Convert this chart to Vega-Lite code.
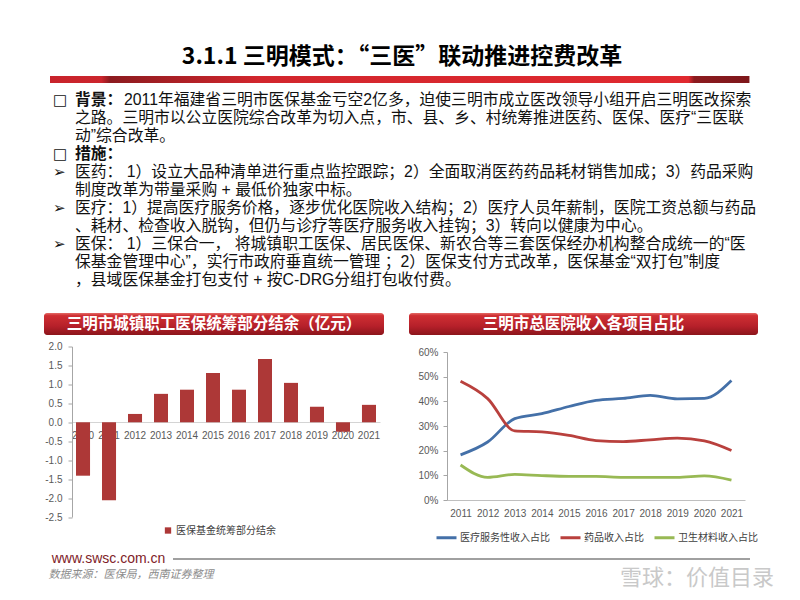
{
  "$schema": "https://vega.github.io/schema/vega-lite/v6.json",
  "background": "white",
  "padding": {"left": 44, "top": 0, "right": 20, "bottom": 10},
  "config": {"view": {"stroke": null}},
  "spacing": 0,
  "resolve": {"scale": {"color": "independent"}, "legend": {"color": "independent"}},
  "vconcat": [
    {
      "width": 716,
      "height": 76,
      "data": {"values": [{"title": "3.1.1 三明模式：“三医”联动推进控费改革"}]},
      "mark": {"type": "text", "font": "Noto Sans CJK SC", "fontSize": 23, "fontWeight": "bold", "color": "#000000", "dy": 19},
      "encoding": {"text": {"field": "title"}}
    },
    {
      "width": 716,
      "height": 7,
      "data": {"values": [{"part": "rule"}]},
      "mark": {
        "type": "rect",
        "fill": {
          "gradient": "linear", "x1": 0, "y1": 0, "x2": 1, "y2": 0,
          "stops": [
            {"offset": 0, "color": "rgba(255,255,255,0)"},
            {"offset": 0.0083, "color": "rgba(255,255,255,0)"},
            {"offset": 0.0084, "color": "#c8232b"},
            {"offset": 0.08, "color": "#cc252d"},
            {"offset": 0.092, "color": "#8c1b1f"},
            {"offset": 0.3, "color": "#d2262d"},
            {"offset": 0.9, "color": "#e0292f"},
            {"offset": 0.908, "color": "#8c1b1f"},
            {"offset": 0.985, "color": "#7e171b"},
            {"offset": 0.986, "color": "rgba(255,255,255,0)"},
            {"offset": 1, "color": "rgba(255,255,255,0)"}
          ]
        }
      },
      "encoding": {}
    },
    {
      "width": 716,
      "height": 230,
      "data": {"values": [
        {"line": 1, "level": 0, "role": "bullet", "s": "□"},
        {"line": 1, "level": 1, "role": "head", "s": "背景："},
        {"line": 1, "level": 1, "role": "lead", "s": "2011年福建省三明市医保基金亏空2亿多，迫使三明市成立医改领导小组开启三明医改探索"},
        {"line": 2, "level": 1, "role": "body", "s": "之路。三明市以公立医院综合改革为切入点，市、县、乡、村统筹推进医药、医保、医疗“三医联"},
        {"line": 3, "level": 1, "role": "body", "s": "动”综合改革。"},
        {"line": 4, "level": 0, "role": "bullet", "s": "□"},
        {"line": 4, "level": 1, "role": "head", "s": "措施："},
        {"line": 5, "level": 0, "role": "bullet", "s": "➢"},
        {"line": 5, "level": 1, "role": "body", "s": "医药： 1）设立大品种清单进行重点监控跟踪；2）全面取消医药药品耗材销售加成；3）药品采购"},
        {"line": 6, "level": 1, "role": "body", "s": "制度改革为带量采购 + 最低价独家中标。"},
        {"line": 7, "level": 0, "role": "bullet", "s": "➢"},
        {"line": 7, "level": 1, "role": "body", "s": "医疗：1）提高医疗服务价格，逐步优化医院收入结构；2）医疗人员年薪制，医院工资总额与药品"},
        {"line": 8, "level": 1, "role": "body", "s": "、耗材、检查收入脱钩，但仍与诊疗等医疗服务收入挂钩；3）转向以健康为中心。"},
        {"line": 9, "level": 0, "role": "bullet", "s": "➢"},
        {"line": 9, "level": 1, "role": "body", "s": "医保： 1）三保合一， 将城镇职工医保、居民医保、新农合等三套医保经办机构整合成统一的“医"},
        {"line": 10, "level": 1, "role": "body", "s": "保基金管理中心”，实行市政府垂直统一管理 ；2）医保支付方式改革，医保基金“双打包”制度"},
        {"line": 11, "level": 1, "role": "body", "s": "，县域医保基金打包支付 + 按C-DRG分组打包收付费。"}
      ]},
      "encoding": {
        "x": {"field": "level", "type": "quantitative", "scale": {"domain": [0, 1], "range": [9, 31], "nice": false, "zero": false}, "axis": null},
        "y": {"field": "line", "type": "quantitative", "scale": {"domain": [0.0556, 12.83], "reverse": true, "nice": false, "zero": false}, "axis": null},
        "text": {"field": "s"}
      },
      "layer": [
        {"transform": [{"filter": "datum.level == 0"}], "mark": {"type": "text", "align": "left", "font": "DejaVu Sans", "fontSize": 15, "fontWeight": "bold", "color": "#111111"}},
        {"transform": [{"filter": "datum.role == 'head'"}], "mark": {"type": "text", "align": "left", "font": "Liberation Sans, Noto Sans CJK SC", "fontSize": 15.8, "fontWeight": "bold", "color": "#111111"}},
        {"transform": [{"filter": "datum.role == 'body'"}], "mark": {"type": "text", "align": "left", "font": "Liberation Sans, Noto Sans CJK SC", "fontSize": 15.8, "color": "#111111"}},
        {"transform": [{"filter": "datum.role == 'lead'"}], "mark": {"type": "text", "align": "left", "font": "Liberation Sans, Noto Sans CJK SC", "fontSize": 15.8, "color": "#111111", "dx": 49}}
      ]
    },
    {
      "spacing": 7,
      "resolve": {"scale": {"color": "independent"}, "legend": {"color": "independent"}},
      "vconcat": [
        {
          "spacing": 25,
          "resolve": {"scale": {"color": "independent"}, "legend": {"color": "independent"}},
          "hconcat": [
            {
              "spacing": 6.5,
              "resolve": {"scale": {"color": "independent"}, "legend": {"color": "independent"}},
              "vconcat": [
                {
                  "width": 340,
                  "height": 22,
                  "data": {"values": [{"title": "三明市城镇职工医保统筹部分结余（亿元）"}]},
                  "layer": [
                    {
                      "mark": {
                        "type": "rect", "cornerRadius": 3,
                        "fill": {"gradient": "linear", "x1": 0, "y1": 0, "x2": 0, "y2": 1,
                          "stops": [
                            {"offset": 0, "color": "#e46a66"},
                            {"offset": 0.12, "color": "#cf2f33"},
                            {"offset": 0.6, "color": "#b6202a"},
                            {"offset": 1, "color": "#8c151b"}
                          ]}
                      },
                      "encoding": {}
                    },
                    {
                      "mark": {"type": "text", "font": "Noto Sans CJK SC", "fontSize": 15.5, "fontWeight": "bold", "color": "#ffffff"},
                      "encoding": {"text": {"field": "title"}}
                    }
                  ]
                },
                {
                  "width": 340,
                  "height": 170.5,
                  "data": {"values": [
                    {"year": "2010", "balance": -1.41, "series": "医保基金统筹部分结余"},
                    {"year": "2011", "balance": -2.06, "series": "医保基金统筹部分结余"},
                    {"year": "2012", "balance": 0.22, "series": "医保基金统筹部分结余"},
                    {"year": "2013", "balance": 0.75, "series": "医保基金统筹部分结余"},
                    {"year": "2014", "balance": 0.86, "series": "医保基金统筹部分结余"},
                    {"year": "2015", "balance": 1.3, "series": "医保基金统筹部分结余"},
                    {"year": "2016", "balance": 0.86, "series": "医保基金统筹部分结余"},
                    {"year": "2017", "balance": 1.67, "series": "医保基金统筹部分结余"},
                    {"year": "2018", "balance": 1.04, "series": "医保基金统筹部分结余"},
                    {"year": "2019", "balance": 0.41, "series": "医保基金统筹部分结余"},
                    {"year": "2020", "balance": -0.25, "series": "医保基金统筹部分结余"},
                    {"year": "2021", "balance": 0.46, "series": "医保基金统筹部分结余"}
                  ]},
                  "mark": {"type": "bar"},
                  "encoding": {
                    "x": {
                      "field": "year", "type": "ordinal",
                      "scale": {"range": [28, 336], "paddingInner": 0.46, "paddingOuter": 0.154},
                      "axis": {"title": null, "offset": -95, "ticks": false, "labelPadding": 8, "labelAngle": 0, "labelFontSize": 10, "labelColor": "#595959", "labelFont": "Liberation Sans", "domainColor": "#d4d4d4"}
                    },
                    "y": {
                      "field": "balance", "type": "quantitative",
                      "scale": {"domain": [-2.5, 2], "nice": false},
                      "axis": {"title": null, "offset": -28, "values": [-2.5, -2, -1.5, -1, -0.5, 0, 0.5, 1, 1.5, 2], "format": ".1f", "labelExpr": "replace(datum.label, '−', '-')", "grid": false, "tickSize": 4, "tickColor": "#a6a6a6", "domainColor": "#a6a6a6", "labelPadding": 6, "labelFontSize": 10, "labelColor": "#595959", "labelFont": "Liberation Sans"}
                    },
                    "color": {
                      "field": "series", "type": "nominal",
                      "scale": {"range": ["#ad3837"]},
                      "legend": {"title": null, "orient": "none", "legendX": 119, "legendY": 179, "symbolType": "square", "symbolSize": 40, "labelFontSize": 10, "labelColor": "#404040", "labelFont": "Noto Sans CJK SC", "labelOffset": 3}
                    }
                  }
                }
              ]
            },
            {
              "spacing": 12,
              "resolve": {"scale": {"color": "independent"}, "legend": {"color": "independent"}},
              "vconcat": [
                {
                  "width": 349,
                  "height": 22,
                  "data": {"values": [{"title": "三明市总医院收入各项目占比"}]},
                  "layer": [
                    {
                      "mark": {
                        "type": "rect", "cornerRadius": 3,
                        "fill": {"gradient": "linear", "x1": 0, "y1": 0, "x2": 0, "y2": 1,
                          "stops": [
                            {"offset": 0, "color": "#e46a66"},
                            {"offset": 0.12, "color": "#cf2f33"},
                            {"offset": 0.6, "color": "#b6202a"},
                            {"offset": 1, "color": "#8c151b"}
                          ]}
                      },
                      "encoding": {}
                    },
                    {
                      "mark": {"type": "text", "font": "Noto Sans CJK SC", "fontSize": 15.5, "fontWeight": "bold", "color": "#ffffff"},
                      "encoding": {"text": {"field": "title"}}
                    }
                  ]
                },
                {
                  "width": 349,
                  "height": 148,
                  "data": {"values": [
                    {"year": "2011", "item": "医疗服务性收入占比", "share": 0.183},
                    {"year": "2012", "item": "医疗服务性收入占比", "share": 0.235},
                    {"year": "2013", "item": "医疗服务性收入占比", "share": 0.330},
                    {"year": "2014", "item": "医疗服务性收入占比", "share": 0.350},
                    {"year": "2015", "item": "医疗服务性收入占比", "share": 0.379},
                    {"year": "2016", "item": "医疗服务性收入占比", "share": 0.404},
                    {"year": "2017", "item": "医疗服务性收入占比", "share": 0.412},
                    {"year": "2018", "item": "医疗服务性收入占比", "share": 0.424},
                    {"year": "2019", "item": "医疗服务性收入占比", "share": 0.410},
                    {"year": "2020", "item": "医疗服务性收入占比", "share": 0.412},
                    {"year": "2021", "item": "医疗服务性收入占比", "share": 0.484},
                    {"year": "2011", "item": "药品收入占比", "share": 0.481},
                    {"year": "2012", "item": "药品收入占比", "share": 0.411},
                    {"year": "2013", "item": "药品收入占比", "share": 0.280},
                    {"year": "2014", "item": "药品收入占比", "share": 0.276},
                    {"year": "2015", "item": "药品收入占比", "share": 0.262},
                    {"year": "2016", "item": "药品收入占比", "share": 0.241},
                    {"year": "2017", "item": "药品收入占比", "share": 0.237},
                    {"year": "2018", "item": "药品收入占比", "share": 0.244},
                    {"year": "2019", "item": "药品收入占比", "share": 0.251},
                    {"year": "2020", "item": "药品收入占比", "share": 0.240},
                    {"year": "2021", "item": "药品收入占比", "share": 0.201},
                    {"year": "2011", "item": "卫生材料收入占比", "share": 0.142},
                    {"year": "2012", "item": "卫生材料收入占比", "share": 0.092},
                    {"year": "2013", "item": "卫生材料收入占比", "share": 0.104},
                    {"year": "2014", "item": "卫生材料收入占比", "share": 0.099},
                    {"year": "2015", "item": "卫生材料收入占比", "share": 0.096},
                    {"year": "2016", "item": "卫生材料收入占比", "share": 0.096},
                    {"year": "2017", "item": "卫生材料收入占比", "share": 0.092},
                    {"year": "2018", "item": "卫生材料收入占比", "share": 0.092},
                    {"year": "2019", "item": "卫生材料收入占比", "share": 0.092},
                    {"year": "2020", "item": "卫生材料收入占比", "share": 0.098},
                    {"year": "2021", "item": "卫生材料收入占比", "share": 0.081}
                  ]},
                  "mark": {"type": "line", "interpolate": "monotone", "strokeWidth": 2.8},
                  "encoding": {
                    "x": {
                      "field": "year", "type": "ordinal",
                      "scale": {"type": "point", "padding": 0.5, "range": [38, 336]},
                      "axis": {"title": null, "ticks": false, "labelPadding": 8, "labelAngle": 0, "labelFontSize": 10, "labelColor": "#595959", "labelFont": "Liberation Sans", "domainColor": "#bfbfbf"}
                    },
                    "y": {
                      "field": "share", "type": "quantitative",
                      "scale": {"domain": [0, 0.6], "nice": false},
                      "axis": {"title": null, "offset": -38, "values": [0, 0.1, 0.2, 0.3, 0.4, 0.5, 0.6], "format": ".0%", "grid": false, "tickSize": 4, "tickColor": "#a6a6a6", "domainColor": "#a6a6a6", "labelPadding": 5, "labelFontSize": 10, "labelColor": "#595959", "labelFont": "Liberation Sans"}
                    },
                    "color": {
                      "field": "item", "type": "nominal",
                      "scale": {"domain": ["医疗服务性收入占比", "药品收入占比", "卫生材料收入占比"], "range": ["#4470a8", "#b9403d", "#98b954"]},
                      "legend": {"title": null, "orient": "none", "direction": "horizontal", "legendX": 26, "legendY": 174, "symbolType": "stroke", "symbolStrokeWidth": 3, "symbolSize": 400, "labelOffset": 2, "columnPadding": 4, "labelFontSize": 10, "labelColor": "#404040", "labelFont": "Noto Sans CJK SC"}
                    }
                  }
                }
              ]
            }
          ]
        },
        {
          "spacing": 0,
          "vconcat": [
            {
              "spacing": 0,
              "hconcat": [
                {
                  "width": 129,
                  "height": 16,
                  "data": {"values": [{"s": "www.swsc.com.cn"}]},
                  "mark": {"type": "text", "font": "Liberation Sans", "fontSize": 14, "color": "#801c28"},
                  "encoding": {"text": {"field": "s"}}
                },
                {
                  "width": 577,
                  "height": 16,
                  "data": {"values": [{"s": "rule"}]},
                  "mark": {
                    "type": "rect",
                    "fill": {"gradient": "linear", "x1": 0, "y1": 0, "x2": 0, "y2": 1,
                      "stops": [
                        {"offset": 0, "color": "rgba(160,160,160,0)"},
                        {"offset": 0.46, "color": "rgba(160,160,160,0)"},
                        {"offset": 0.461, "color": "#a0a0a0"},
                        {"offset": 0.54, "color": "#a0a0a0"},
                        {"offset": 0.541, "color": "rgba(160,160,160,0)"},
                        {"offset": 1, "color": "rgba(160,160,160,0)"}
                      ]}
                  },
                  "encoding": {}
                }
              ]
            },
            {
              "spacing": 399,
              "hconcat": [
                {
                  "width": 174,
                  "height": 16,
                  "data": {"values": [{"s": "数据来源：医保局，西南证券整理"}]},
                  "mark": {"type": "text", "font": "Noto Sans CJK SC", "fontSize": 11, "fontStyle": "italic", "color": "#8c8c8c"},
                  "encoding": {"text": {"field": "s"}}
                },
                {
                  "width": 160,
                  "height": 22,
                  "data": {"values": [{"s": "雪球：价值目录"}]},
                  "mark": {"type": "text", "font": "Noto Sans CJK SC", "fontSize": 22, "color": "#c9c9c9"},
                  "encoding": {"text": {"field": "s"}}
                }
              ]
            }
          ]
        }
      ]
    }
  ]
}
